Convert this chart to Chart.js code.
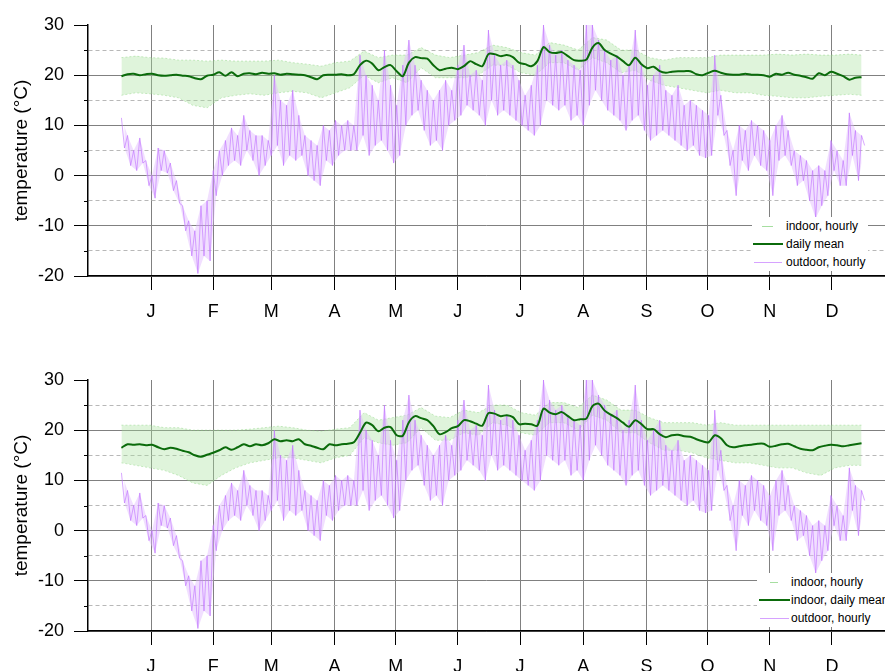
<!DOCTYPE html>
<html>
<head>
<meta charset="utf-8">
<script src="https://cdn.jsdelivr.net/npm/chart.js@4.4.0/dist/chart.umd.min.js"></script>
<style>
  html, body { margin: 0; padding: 0; background: #fff; overflow: hidden; width: 885px; height: 671px; }
  .panel { position: absolute; left: 0; width: 885px; height: 335px; }
  .legend { position: absolute; background: #fff; font: 12px "Liberation Sans", Arial, sans-serif; color: #000; white-space: nowrap; }
  .legend div { position: relative; height: 18px; line-height: 18px; }
  .legend i { position: absolute; display: block; }
</style>
</head>
<body>
<div class="panel" style="top:0"><canvas id="top"></canvas></div>
<div class="panel" style="top:355px"><canvas id="bottom"></canvas></div>

<div class="legend" style="left:752px; top:217px; width:116px;">
  <div style="padding-left:34px"><i style="left:10px; top:9px; width:11px; border-top:1px solid #a6dea0"></i>indoor, hourly</div>
  <div style="padding-left:34px"><i style="left:1px; top:8px; width:30px; border-top:2px solid #0b6b0b"></i>daily mean</div>
  <div style="padding-left:34px"><i style="left:2px; top:9px; width:28px; border-top:1px solid #d6a2ff"></i>outdoor, hourly</div>
</div>
<div class="legend" style="left:757px; top:573px; width:140px;">
  <div style="padding-left:34px"><i style="left:13px; top:9px; width:8px; border-top:1px solid #a6dea0"></i>indoor, hourly</div>
  <div style="padding-left:34px"><i style="left:2px; top:8px; width:31px; border-top:2px solid #0b6b0b"></i>indoor, daily mean</div>
  <div style="padding-left:34px"><i style="left:3px; top:9px; width:29px; border-top:1px solid #d6a2ff"></i>outdoor, hourly</div>
</div>

<script>
// month letters, placed at mid-month (day of year)
const monthLabels = ['J', 'F', 'M', 'A', 'M', 'J', 'J', 'A', 'S', 'O', 'N', 'D'];
const monthMid = [14.5, 45, 73.5, 104.5, 134.5, 165, 195.5, 226.5, 257.5, 287.5, 318, 348.5];

// outdoor temperature, every 3 days: daily high and low (°C)
const outdoorHigh = [11.5, 8, 5, 7.5, 3, 0, 5.5, 5, 2.5, -1, -6, -9, -11, -6, -5, 1, 5, 7, 9.5, 8,
  12, 9, 8, 8, 7, 20, 15, 14, 17, 12, 8, 7, 6, 10, 9, 11, 10, 11, 10, 24,
  20, 18, 15, 25, 18, 14, 22, 27, 22, 19, 17, 15, 17, 19, 17, 22, 26, 20, 21, 19,
  29, 24, 22, 23, 22, 19, 16, 18, 22, 30, 26, 24, 25, 23, 22, 21, 30, 30, 27, 25,
  23, 24, 20, 22, 29, 22, 18, 20, 22, 17, 16, 18, 14, 15, 14, 13, 12, 24, 16, 9,
  5, 10, 9, 11, 10, 9, 7, 10, 12, 9, 5, 4, 3, 1, 2, 1, 7, 5, 3, 12.5,
  9, 8];
const outdoorLow = [5.5, 2, 1, 2.5, -2, -4.5, 1, 0.5, -3, -5.5, -11, -16, -19.5, -16, -17, -4, 0, 2, 3, 2,
  5, 3, 0, 2, 4, 6, 2, 4, 3, 4, 0, -1, -2, 3, 2, 4, 5, 5, 5, 8,
  4, 6, 7, 5, 2.5, 4, 10, 12, 13, 9, 6, 7, 5, 10, 11, 12, 14, 13, 12, 10,
  15, 12, 13, 12, 11, 10, 9, 8, 10, 15, 14, 13, 14, 11, 12, 10, 14, 17, 15, 13,
  12, 11, 9, 11, 12, 9, 7, 8, 9, 8, 7, 6, 5, 6, 4, 3.5, 4, 12, 8, 2,
  -4, 3, 1, 4, 2, 1, -4, 3, 4, 2, -2, -1, -5, -8.5, -6, -4, 1, -2, -2, 4,
  -1, 6];

// indoor daily mean, every 3 days (°C)
const meanTop = [19.8, 20.2, 20.3, 20.0, 20.2, 20.3, 20.0, 19.9, 20.0, 20.1, 19.9, 19.8, 19.4, 19.2, 19.9, 20.1, 20.6, 19.9, 20.6, 19.8,
  20.3, 20.4, 20.2, 20.5, 20.3, 20.4, 20.1, 20.3, 20.2, 20.1, 20.0, 19.6, 19.2, 20.0, 20.1, 20.1, 20.2, 20.0, 20.2, 22.0,
  22.9, 22.3, 21.0, 21.6, 22.0, 20.8, 19.8, 22.5, 23.6, 23.4, 23.3, 22.0, 21.0, 21.3, 21.5, 21.2, 21.8, 22.8, 22.2, 21.8,
  24.2, 24.2, 23.8, 24.0, 23.6, 22.5, 22.2, 21.8, 22.8, 25.6, 24.6, 24.4, 24.6, 23.8, 23.0, 22.9, 23.1, 25.5, 26.4, 25.0,
  24.3, 23.7, 22.8, 22.0, 23.5, 22.2, 21.4, 21.7, 20.8, 20.5, 20.7, 20.8, 20.8, 20.8, 20.2, 20.0, 20.5, 20.9, 20.5, 20.2,
  20.1, 20.1, 20.3, 20.1, 20.1, 20.0, 19.7, 20.3, 20.1, 20.5, 20.1, 19.9, 19.6, 19.3, 20.4, 20.0, 20.7, 20.3, 19.8, 19.1,
  19.5, 19.6];
const meanBottom = [16.5, 17.2, 17.1, 17.2, 17.0, 17.1, 16.6, 16.2, 16.5, 16.3, 15.9, 15.6, 15.0, 14.7, 15.1, 15.5, 16.0, 16.6, 16.1, 16.6,
  17.2, 16.8, 17.2, 17.0, 17.4, 18.2, 17.8, 18.0, 17.8, 18.2, 17.2, 16.9, 16.5, 16.2, 17.2, 17.0, 17.2, 17.3, 17.6, 19.5,
  21.5, 21.0, 19.8, 20.5, 20.6, 19.0, 18.9, 21.6, 22.8, 22.4, 22.0, 20.8, 19.2, 19.6, 20.4, 20.8, 22.0, 21.8, 21.3, 20.9,
  23.4, 23.3, 22.8, 23.0, 22.6, 21.2, 21.3, 21.2, 20.9, 24.3, 23.5, 23.2, 23.6, 22.8, 22.0, 22.2, 22.3, 24.8, 25.3, 23.9,
  23.1, 22.4, 21.5, 20.7, 22.0, 21.2, 20.2, 20.2, 19.2, 18.6, 19.0, 19.1, 18.8, 18.7, 18.2, 17.8, 17.6, 19.0, 18.4, 17.0,
  16.6, 16.8, 17.0, 17.1, 17.3, 17.3, 16.7, 16.9, 17.2, 17.3, 16.8, 16.3, 16.1, 16.0, 16.6, 16.9, 17.1, 17.0, 16.8, 17.0,
  17.2, 17.4];

// indoor hourly spread (all rooms), weekly upper and lower edge (°C)
const indoorHighTop = [23.5, 23.8, 23.5, 23.4, 23.0, 23.0, 22.8, 23.0, 22.8, 22.8, 22.8, 23.0, 22.5, 22.2, 21.8, 22.5, 22.8, 24.8, 23.5, 24.0,
  24.0, 25.5, 24.0, 23.5, 24.0, 24.5, 26.0, 25.5, 24.5, 24.0, 26.5, 26.0, 25.0, 27.5, 27.0, 25.0, 25.0, 23.5, 23.0, 23.5,
  23.5, 23.5, 24.0, 24.0, 24.0, 24.0, 24.2, 24.0, 24.2, 24.0, 24.0, 24.2, 24.0];
const indoorLowTop = [16.0, 16.5, 16.3, 16.0, 15.5, 14.0, 13.5, 15.5, 16.0, 16.3, 16.0, 16.5, 16.8, 16.5, 15.5, 16.5, 17.5, 20.0, 18.5, 19.5,
  18.5, 21.5, 19.5, 19.5, 19.5, 20.0, 22.0, 22.0, 20.5, 20.0, 22.5, 22.5, 21.0, 23.5, 22.5, 20.5, 21.0, 19.0, 18.0, 17.5,
  17.0, 16.5, 17.0, 16.5, 16.5, 16.0, 15.8, 15.5, 15.5, 15.8, 16.0, 16.2, 16.0];
const indoorHighBottom = [21.0, 21.0, 21.0, 20.5, 20.5, 20.0, 20.0, 20.0, 20.0, 20.2, 20.5, 20.8, 20.5, 20.0, 19.8, 20.2, 20.5, 23.5, 22.0, 22.5,
  23.0, 24.5, 22.8, 22.5, 24.0, 23.5, 25.0, 25.0, 23.5, 23.0, 25.5, 25.5, 24.5, 27.0, 26.0, 24.0, 24.0, 22.5, 21.5, 21.5,
  21.5, 21.0, 21.5, 21.0, 21.0, 21.0, 21.0, 21.0, 21.0, 21.0, 21.0, 21.0, 21.0];
const indoorLowBottom = [13.5, 13.0, 12.5, 12.0, 11.0, 9.5, 9.0, 11.0, 12.5, 13.5, 14.0, 14.5, 14.5, 14.0, 13.5, 14.5, 15.0, 18.5, 17.5, 17.0,
  17.5, 20.5, 18.0, 18.0, 19.5, 19.0, 21.5, 21.0, 19.5, 19.0, 21.5, 21.5, 20.0, 23.0, 22.0, 19.5, 19.5, 17.5, 16.0, 16.0,
  15.5, 14.5, 14.0, 13.5, 13.5, 13.0, 12.5, 12.5, 11.5, 11.0, 12.5, 13.0, 13.0];

const pts = (vals, step, shift = 0) => vals.map((v, i) => ({ x: Math.min(i * step, 363) + shift, y: v }));
const zigzag = [];
outdoorHigh.forEach((v, i) => {
  zigzag.push({ x: i * 3, y: v });
  zigzag.push({ x: i * 3 + 1.5, y: outdoorLow[i] });
});

const minorTicks = {
  id: 'minorTicks',
  afterDraw(chart) {
    const { ctx, chartArea } = chart;
    const y = chart.scales.y;
    ctx.save();
    ctx.strokeStyle = '#000';
    ctx.lineWidth = 1;
    y.ticks.forEach(t => {
      if (t.value % 10 !== 0) {
        const py = Math.round(y.getPixelForValue(t.value)) + 0.5;
        ctx.beginPath();
        ctx.moveTo(chartArea.left - 4, py);
        ctx.lineTo(chartArea.left, py);
        ctx.stroke();
      }
    });
    ctx.restore();
  }
};

const font = { family: '"Liberation Sans", Arial, sans-serif', size: 18 };

function makeChart(id, mean, bandHigh, bandLow) {
  return new Chart(document.getElementById(id), {
    type: 'line',
    plugins: [minorTicks],
    data: {
      datasets: [
        {
          data: pts(bandHigh, 7),
          borderColor: 'rgba(130,210,120,0.55)',
          borderWidth: 0.8,
          borderDash: [2, 2],
          backgroundColor: 'rgba(165,225,155,0.36)',
          fill: '+1',
          order: 4,
        },
        {
          data: pts(bandLow, 7),
          borderColor: 'rgba(130,210,120,0.55)',
          borderWidth: 0.8,
          borderDash: [2, 2],
          fill: false,
          order: 4,
        },
        {
          data: pts(outdoorHigh, 3),
          borderWidth: 0,
          borderColor: 'rgba(0,0,0,0)',
          backgroundColor: 'rgba(225,185,255,0.45)',
          fill: '+1',
          order: 3,
        },
        {
          data: pts(outdoorLow, 3, 1.5),
          borderWidth: 0,
          borderColor: 'rgba(0,0,0,0)',
          fill: false,
          order: 3,
        },
        {
          data: zigzag,
          borderColor: 'rgba(190,110,255,0.6)',
          borderWidth: 1,
          fill: false,
          order: 2,
        },
        {
          data: pts(mean, 3),
          borderColor: '#0b6b0b',
          borderWidth: 2,
          tension: 0.3,
          fill: false,
          order: 1,
        },
      ]
    },
    options: {
      responsive: true,
      maintainAspectRatio: false,
      animation: false,
      elements: { point: { radius: 0 } },
      layout: { padding: { top: 25, right: 0, left: 0, bottom: 0 } },
      plugins: {
        legend: { display: false },
        tooltip: { enabled: false },
      },
      scales: {
        x: {
          type: 'linear',
          min: -16.4,
          max: 374.5,
          afterFit: s => { s.height = 59; },
          afterBuildTicks: s => { s.ticks = monthMid.map(v => ({ value: v })); },
          border: { display: true, color: '#000', width: 1.5 },
          grid: {
            color: '#808080',
            tickColor: '#000',
            tickLength: 14,
          },
          ticks: {
            color: '#000',
            font: font,
            padding: 11,
            maxRotation: 0,
            autoSkip: false,
            callback: (v, i) => monthLabels[i],
          }
        },
        y: {
          min: -20,
          max: 30,
          afterFit: s => { s.width = 88; },
          border: {
            display: true,
            color: '#000',
            width: 1.5,
            dash: ctx => (ctx.tick && ctx.tick.value % 10 !== 0) ? [4, 3] : [],
          },
          grid: {
            color: ctx => ctx.tick.value === 30 ? 'rgba(0,0,0,0)' : (ctx.tick.value % 10 === 0 ? '#808080' : '#b8b8b8'),
            tickColor: ctx => ctx.tick.value % 10 === 0 ? '#000' : 'rgba(0,0,0,0)',
            tickLength: 14,
          },
          title: {
            display: true,
            text: 'temperature (°C)',
            color: '#000',
            font: { family: font.family, size: 19 },
            padding: { top: 10, bottom: 0 },
          },
          ticks: {
            stepSize: 5,
            color: '#000',
            font: font,
            padding: 10,
            callback: v => v % 10 === 0 ? String(v) : '',
          }
        }
      }
    }
  });
}

makeChart('top', meanTop, indoorHighTop, indoorLowTop);
makeChart('bottom', meanBottom, indoorHighBottom, indoorLowBottom);
</script>
</body>
</html>
